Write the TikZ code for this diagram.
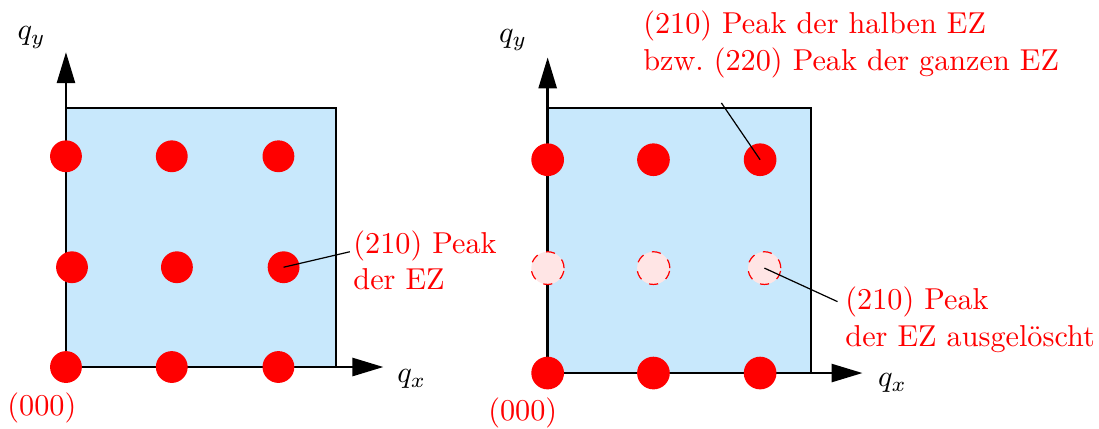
\documentclass[tikz,border=0pt]{standalone}
\usetikzlibrary{arrows.meta}
\definecolor{zonefill}{RGB}{200,232,252}
\tikzset{
  peak/.style={circle,fill=red,minimum size=3.7mm,inner sep=0pt},
  gone/.style={circle,fill=red!10,draw=red,dashed,minimum size=3.8mm,inner sep=0pt},
  axis/.style={thick,-{Triangle[length=3.6mm,width=2.1mm]}},
  note/.style={text=red,align=left,inner sep=1pt},
  lead/.style={thin},
}
\begin{document}
\begin{tikzpicture}
  \useasboundingbox (-0.767,-0.709) rectangle (12.01,4.267);
  \begin{scope}
    \draw[semithick,fill=zonefill] (0,0) rectangle (3.14,3.01);
    \coordinate (ao) at (0,0);
    \draw[axis] (ao) -- (0,3.66);
    \draw[axis] (ao) -- (3.69,0);
    \node (aqy) at (-0.40,3.83) {$q_y$};
    \node (aqx) at (4.02,-0.14) {$q_x$};
    \node[text=red] (aorig) at (-0.28,-0.47) {(000)};
    \node[peak] (a00) at (0,0) {};
    \node[peak] (a10) at (1.23,0) {};
    \node[peak] (a20) at (2.47,0) {};
    \node[peak] (a01) at (0.07,1.16) {};
    \node[peak] (a11) at (1.29,1.16) {};
    \node[peak] (a21) at (2.53,1.16) {};
    \node[peak] (a02) at (0,2.45) {};
    \node[peak] (a12) at (1.23,2.45) {};
    \node[peak] (a22) at (2.47,2.45) {};
    \node[note,anchor=west] (anote) at (3.30,1.24) {(210) Peak\\der EZ};
    \coordinate (aend) at (3.30,1.34);
    \draw[lead] (a21.center) -- (aend);
  \end{scope}
  \begin{scope}[shift={(5.6,-0.07)}]
    \draw[semithick,fill=zonefill] (0,0) rectangle (3.06,3.08);
    \coordinate (bo) at (0,0);
    \draw[axis] (bo) -- (0,3.67);
    \draw[axis] (bo) -- (3.66,0);
    \node (bqy) at (-0.40,3.87) {$q_y$};
    \node (bqx) at (4.01,-0.12) {$q_x$};
    \node[text=red] (borig) at (-0.29,-0.46) {(000)};
    \node[peak,minimum size=3.8mm] (b00) at (0,0) {};
    \node[peak,minimum size=3.8mm] (b10) at (1.23,0) {};
    \node[peak,minimum size=3.8mm] (b20) at (2.47,0) {};
    \node[gone] (b01) at (0,1.22) {};
    \node[gone] (b11) at (1.23,1.22) {};
    \node[gone] (b21) at (2.52,1.22) {};
    \node[peak,minimum size=3.8mm] (b02) at (0,2.48) {};
    \node[peak,minimum size=3.8mm] (b12) at (1.23,2.48) {};
    \node[peak,minimum size=3.8mm] (b22) at (2.47,2.48) {};
    \node[note,anchor=west] (btop) at (1.07,3.82) {(210) Peak der halben EZ\\bzw.\ (220) Peak der ganzen EZ};
    \node[note,anchor=west] (blow) at (3.42,0.62) {(210) Peak\\der EZ ausgelöscht};
    \coordinate (btopend) at (2.02,3.14);
    \coordinate (blowend) at (3.37,0.83);
    \draw[lead] (b22.center) -- (btopend);
    \draw[lead] (b21.center) -- (blowend);
  \end{scope}
\end{tikzpicture}
\end{document}
